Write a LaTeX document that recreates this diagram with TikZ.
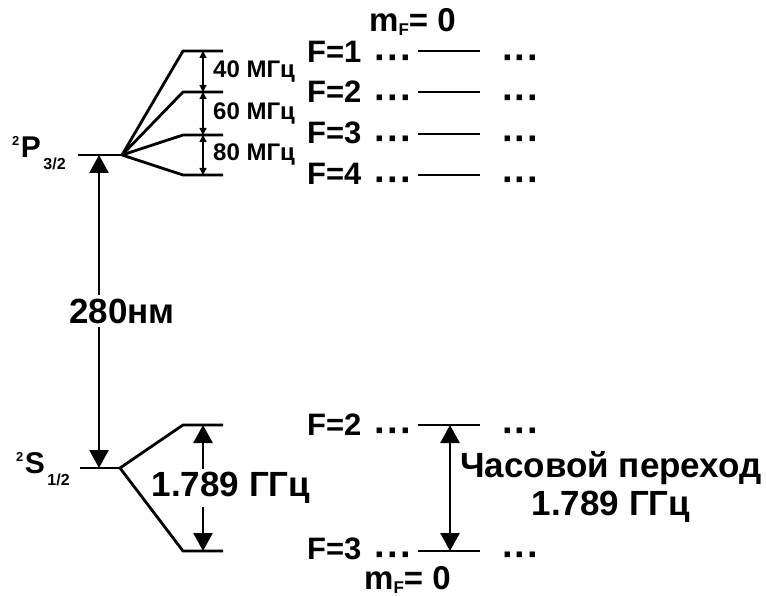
\documentclass[tikz,border=0pt]{standalone}
\usepackage{fontspec}
\setmainfont{Liberation Sans}
\usetikzlibrary{arrows.meta,positioning}

\tikzset{
  level/.style={line width=2.8pt,line join=round},
  bigarr/.style={line width=2.6pt,{Triangle[length=18pt,width=19pt]}-{Triangle[length=18pt,width=19pt]}},
  smallarr/.style={line width=1.2pt,{Triangle[length=7pt,width=7pt]}-{Triangle[length=7pt,width=7pt]}},
  txt/.style={inner sep=0pt,font=\bfseries\fontsize{#1}{#1}\selectfont},
  dotrow/.style={inner sep=0pt,font=\bfseries\fontsize{38}{38}\selectfont},
}
\newcommand{\dts}{\smash{\raisebox{-8pt}{···}}}
\newcommand{\termsup}[1]{\raisebox{12pt}{\fontsize{13}{13}\selectfont #1}\kern1.5pt}
\newcommand{\termsub}[1]{\kern2.5pt\raisebox{-12pt}{\fontsize{16}{16}\selectfont #1}}
\newcommand{\mzero}{m\raisebox{-4pt}{\fontsize{17}{17}\selectfont F}= 0}

\begin{document}
\begin{tikzpicture}[x=1pt,y=-1pt]
    \useasboundingbox (0,0) rectangle (766,596);
    % upper term 2P3/2
    \coordinate (p0) at (78,155);
    \coordinate (p1) at (122,155);
    \coordinate (a1) at (183,51);  \coordinate (b1) at (223,51);
    \coordinate (a2) at (183,92);  \coordinate (b2) at (223,92);
    \coordinate (a3) at (183,135); \coordinate (b3) at (223,135);
    \coordinate (a4) at (183,175); \coordinate (b4) at (223,175);
    \draw[level] (p0) -- (p1);
    \draw[level] (p1) -- (a1) -- (b1);
    \draw[level] (p1) -- (a2) -- (b2);
    \draw[level] (p1) -- (a3) -- (b3);
    \draw[level] (p1) -- (a4) -- (b4);
    \node[txt=30,anchor=base west] (pterm) at (12,158)
        {\termsup{2}P\termsub{3/2}};
    % hyperfine gaps
    \coordinate (k1) at (203,51);
    \coordinate (k2) at (203,92);
    \coordinate (k3) at (203,135);
    \coordinate (k4) at (203,175);
    \draw[smallarr] (k1) -- (k2);
    \draw[smallarr] (k2) -- (k3);
    \draw[smallarr] (k3) -- (k4);
    \node[txt=24,anchor=west] (g12) at (213,72) {40 МГц};
    \node[txt=24,anchor=west] (g23) at (213,114) {60 МГц};
    \node[txt=24,anchor=west] (g34) at (213,155) {80 МГц};
    % lower term 2S1/2
    \coordinate (s0) at (80,468);
    \coordinate (s1) at (120,468);
    \coordinate (c2) at (183,425); \coordinate (d2) at (223,425);
    \coordinate (c3) at (183,551); \coordinate (d3) at (223,551);
    \node[txt=30,anchor=base west] (sterm) at (16,473)
        {\termsup{2}S\termsub{1/2}};
    \coordinate (h2) at (203,425);
    \coordinate (h3) at (203,551);
    \draw[bigarr] (h2) -- (h3);
    \node[txt=35,fill=white,inner xsep=0.5pt,inner ysep=3pt] (hfs) at (231,488) {1.789 ГГц};
    \draw[level] (s0) -- (s1);
    \draw[level] (s1) -- (c2) -- (d2);
    \draw[level] (s1) -- (c3) -- (d3);
    % optical transition
    \coordinate (m1) at (99,155);
    \coordinate (m2) at (99,468);
    \draw[bigarr] (m1) -- (m2);
    \node[txt=35,fill=white,inner sep=4pt] (lambda) at (122,311) {280нм};
    % mF = 0 sublevels
    \coordinate (rx) at (502,0);
    \node[txt=33,anchor=base west] (mtop) at (369,32) {\mzero};
    \node[txt=31,anchor=west] (f1) at (307,52) {F=1};
    \node[txt=31,anchor=west] (f2) at (307,92) {F=2};
    \node[txt=31,anchor=west] (f3) at (307,133) {F=3};
    \node[txt=31,anchor=west] (f4) at (307,174) {F=4};
    \node[dotrow,right=13pt of f1.base east,anchor=base west] (l1) {\dts};
    \node[dotrow,right=13pt of f2.base east,anchor=base west] (l2) {\dts};
    \node[dotrow,right=13pt of f3.base east,anchor=base west] (l3) {\dts};
    \node[dotrow,right=13pt of f4.base east,anchor=base west] (l4) {\dts};
    \node[dotrow,anchor=base west] (e1) at (f1.base -| rx) {\dts};
    \node[dotrow,anchor=base west] (e2) at (f2.base -| rx) {\dts};
    \node[dotrow,anchor=base west] (e3) at (f3.base -| rx) {\dts};
    \node[dotrow,anchor=base west] (e4) at (f4.base -| rx) {\dts};
    \draw[level] (418,51) -- (480,51);
    \draw[level] (418,92) -- (480,92);
    \draw[level] (418,134) -- (480,134);
    \draw[level] (418,175) -- (480,175);
    % clock states
    \node[txt=31,anchor=west] (fa) at (307,425) {F=2};
    \node[txt=31,anchor=west] (fb) at (307,549) {F=3};
    \node[dotrow,right=13pt of fa.base east,anchor=base west] (la) {\dts};
    \node[dotrow,right=13pt of fb.base east,anchor=base west] (lb) {\dts};
    \node[dotrow,anchor=base west] (ea) at (fa.base -| rx) {\dts};
    \node[dotrow,anchor=base west] (eb) at (fb.base -| rx) {\dts};
    \coordinate (q2a) at (418,425); \coordinate (q2b) at (480,425);
    \coordinate (q3a) at (418,551); \coordinate (q3b) at (480,551);
    \draw[level] (q2a) -- (q2b);
    \draw[level] (q3a) -- (q3b);
    \coordinate (t2) at (450,425);
    \coordinate (t3) at (450,551);
    \draw[bigarr] (t2) -- (t3);
    \node[txt=35] (clock) at (611,468) {Часовой переход};
    \node[txt=35] (clockf) at (611,507) {1.789 ГГц};
    \node[txt=33,anchor=base west] (mbot) at (364,589) {\mzero};
\end{tikzpicture}
\end{document}
